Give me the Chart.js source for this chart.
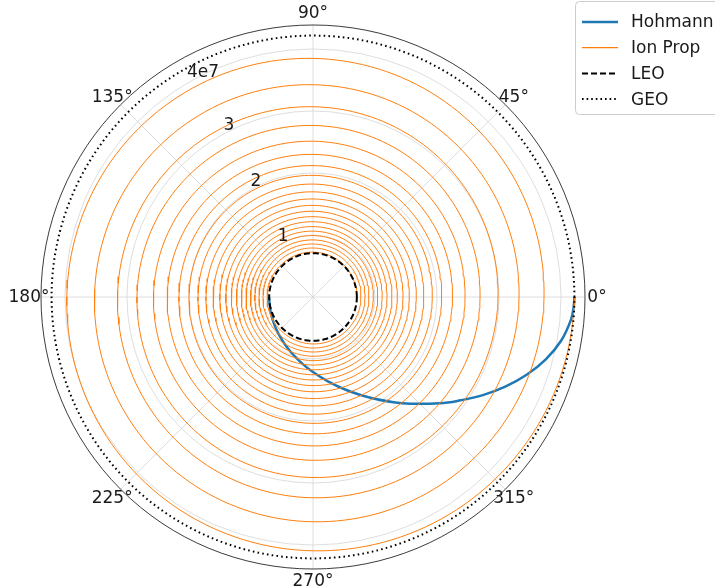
<!DOCTYPE html>
<html>
<head>
<meta charset="utf-8">
<script src="https://cdn.jsdelivr.net/npm/chart.js@4.4.1/dist/chart.umd.min.js"></script>
<style>
  html, body { margin: 0; padding: 0; background: #fff; }
  #wrap { width: 715px; height: 587px; position: relative; }
</style>
</head>
<body>
<div id="wrap"><canvas id="chart"></canvas></div>
<script>
/* ---------- DATA (radii in metres, angles in degrees) ---------- */
const rLeo = 7.07e6;
const rGeo = 4.2164e7;
const rMax = 4.387e7;
const radialTicks = [1e7, 2e7, 3e7, 4e7];
const radialLabels = ['1', '2', '3', '4e7'];
const angleTicks = [0, 45, 90, 135, 180, 225, 270, 315];

// ion-prop spiral: radius (x1e6 m) each time it passes 0°, one value per revolution
const ionCrossings = [7.07, 7.74, 8.39, 9.03, 9.73, 10.44, 11.16, 11.94, 12.74, 13.60, 14.52,
  15.53, 16.66, 17.87, 19.24, 20.76, 22.50, 24.52, 26.94, 29.84, 33.23, 37.26, 42.16];

// Hohmann transfer arc (radius x1e6 m)
const hohmannAngles = [180, 190, 200, 210, 220, 230, 240, 250, 260, 270, 280, 290, 300, 310,
  320, 325, 330, 335, 340, 345, 350, 355, 358, 360];
const hohmannRadii = [7.07, 7.11, 7.25, 7.49, 7.83, 8.30, 8.93, 9.74, 10.78, 12.11, 13.82, 16.01, 18.81, 22.35,
  26.67, 29.05, 31.64, 34.21, 36.67, 38.87, 40.63, 41.77, 42.08, 42.16];

const legendLabels = ['Hohmann', 'Ion Prop', 'LEO', 'GEO'];

/* ---------- helpers ---------- */
const RAD = Math.PI / 180;
const toXY = (r, deg) => ({ x: r * Math.cos(deg * RAD), y: r * Math.sin(deg * RAD) });

function circlePoints(r) {
  const pts = [];
  for (let a = 0; a <= 360; a++) pts.push(toXY(r, a));
  return pts;
}

function spiralPoints() {
  const pts = [];
  for (let t = 0; t < ionCrossings.length - 1; t++) {
    const r0 = ionCrossings[t] * 1e6, r1 = ionCrossings[t + 1] * 1e6;
    for (let a = 0; a < 360; a += 2) pts.push(toXY(r0 + (r1 - r0) * a / 360, a));
  }
  pts.push(toXY(ionCrossings[ionCrossings.length - 1] * 1e6, 0));
  return pts;
}

const hohmannPoints = hohmannAngles.map((a, i) => toXY(hohmannRadii[i] * 1e6, a));

const FONT = '17px "DejaVu Sans", sans-serif';
const BLUE = '#1f77b4', ORANGE = '#ff7f0e';

/* ---------- polar frame drawn on the linear x/y scales ---------- */
function polarGeom(chart) {
  const xs = chart.scales.x, ys = chart.scales.y;
  const cx = xs.getPixelForValue(0), cy = ys.getPixelForValue(0);
  const rpx = v => xs.getPixelForValue(v) - cx;
  return { cx, cy, rpx };
}

const polarGrid = {
  id: 'polarGrid',
  beforeDatasetsDraw(chart) {
    const ctx = chart.ctx;
    const { cx, cy, rpx } = polarGeom(chart);
    const R = rpx(rMax);
    ctx.save();
    ctx.strokeStyle = '#d6d6d6';
    ctx.lineWidth = 0.8;
    radialTicks.forEach(v => {
      ctx.beginPath();
      ctx.arc(cx, cy, rpx(v), 0, Math.PI * 2);
      ctx.stroke();
    });
    angleTicks.forEach(a => {
      ctx.beginPath();
      ctx.moveTo(cx, cy);
      ctx.lineTo(cx + R * Math.cos(a * RAD), cy - R * Math.sin(a * RAD));
      ctx.stroke();
    });
    ctx.restore();
  },
  afterDatasetsDraw(chart) {
    const ctx = chart.ctx;
    const { cx, cy, rpx } = polarGeom(chart);
    const R = rpx(rMax);
    ctx.save();
    // spine
    ctx.strokeStyle = '#262626';
    ctx.lineWidth = 0.9;
    ctx.beginPath();
    ctx.arc(cx, cy, R, 0, Math.PI * 2);
    ctx.stroke();
    // angle labels
    ctx.font = FONT;
    ctx.fillStyle = '#1a1a1a';
    ctx.textAlign = 'center';
    ctx.textBaseline = 'middle';
    angleTicks.forEach(a => {
      const d = R + 12;
      ctx.fillText(a + '°', cx + d * Math.cos(a * RAD), cy - d * Math.sin(a * RAD) + 1);
    });
    // radial labels
    radialTicks.forEach((v, i) => {
      const d = rpx(v) + (i === radialTicks.length - 1 ? 3 : 6);
      ctx.fillText(radialLabels[i], cx + d * Math.cos(116 * RAD), cy - d * Math.sin(116 * RAD) + 1);
    });
    ctx.restore();
  },
  afterDraw(chart) {
    // legend box, top right (runs off the edge like the original)
    const ctx = chart.ctx;
    const styles = [
      { color: BLUE, width: 2.5, dash: [] },
      { color: ORANGE, width: 1.2, dash: [] },
      { color: '#000', width: 2, dash: [6, 3] },
      { color: '#000', width: 2, dash: [1.6, 3] }
    ];
    ctx.save();
    ctx.fillStyle = 'rgba(255,255,255,0.85)';
    ctx.strokeStyle = '#cccccc';
    ctx.lineWidth = 1;
    ctx.beginPath();
    ctx.roundRect(575.5, 1.5, 160, 113, 4);
    ctx.fill();
    ctx.stroke();
    ctx.font = FONT;
    ctx.textAlign = 'left';
    ctx.textBaseline = 'middle';
    legendLabels.forEach((lab, i) => {
      const y = 22 + i * 25.7;
      const s = styles[i];
      ctx.strokeStyle = s.color;
      ctx.lineWidth = s.width;
      ctx.setLineDash(s.dash);
      ctx.beginPath();
      ctx.moveTo(582, y);
      ctx.lineTo(618, y);
      ctx.stroke();
      ctx.setLineDash([]);
      ctx.fillStyle = '#1a1a1a';
      ctx.fillText(lab, 631, y + 1);
    });
    ctx.restore();
  }
};

/* ---------- CHART ---------- */
new Chart(document.getElementById('chart'), {
  type: 'scatter',
  data: {
    datasets: [
      { label: 'GEO', data: circlePoints(rGeo), showLine: true, borderColor: '#000', borderWidth: 2,
        borderDash: [1.6, 3.2], pointRadius: 0, order: 1 },
      { label: 'LEO', data: circlePoints(rLeo), showLine: true, borderColor: '#000', borderWidth: 2,
        borderDash: [6, 3], pointRadius: 0, order: 2 },
      { label: 'Ion Prop', data: spiralPoints(), showLine: true, borderColor: ORANGE, borderWidth: 1,
        pointRadius: 0, order: 3 },
      { label: 'Hohmann', data: hohmannPoints, showLine: true, borderColor: BLUE, borderWidth: 2.5,
        tension: 0.4, pointRadius: 0, order: 4 }
    ]
  },
  options: {
    responsive: true,
    maintainAspectRatio: false,
    animation: false,
    events: [],
    layout: { padding: { left: 41, right: 130, top: 25, bottom: 18 } },
    scales: {
      x: { type: 'linear', min: -rMax, max: rMax, display: false },
      y: { type: 'linear', min: -rMax, max: rMax, display: false }
    },
    plugins: { legend: { display: false }, tooltip: { enabled: false } }
  },
  plugins: [polarGrid]
});
</script>
</body>
</html>
